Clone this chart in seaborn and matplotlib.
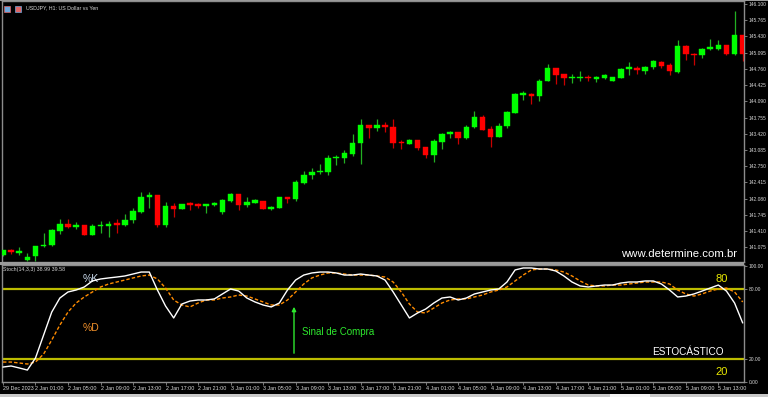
import numpy as np
import pandas as pd
import matplotlib
matplotlib.use("Agg")
import matplotlib.pyplot as plt
from matplotlib.patches import Rectangle
import seaborn as sns

# ---------------- data ----------------
opens = [140.915, 141.026, 140.970, 140.826, 140.909, 141.099, 141.120, 141.422, 141.551, 141.489,
         141.531, 141.333, 141.510, 141.524, 141.572, 141.545, 141.642, 141.806, 142.114, 142.147,
         141.545, 141.929, 141.874, 141.982, 141.962, 141.935, 141.941, 141.812, 142.038, 142.175,
         141.941, 141.997, 142.032, 141.874, 141.888, 142.120, 142.079, 142.408, 142.566, 142.633,
         142.640, 142.915, 142.921, 143.009, 143.223, 143.599, 143.543, 143.599, 143.557, 143.249,
         143.208, 143.284, 143.140, 142.982, 143.255, 143.414, 143.461, 143.325, 143.551, 143.763,
         143.516, 143.358, 143.584, 143.851, 144.229, 144.241, 144.200, 144.508, 144.769, 144.646,
         144.570, 144.570, 144.590, 144.557, 144.570, 144.508, 144.578, 144.754, 144.783, 144.721,
         144.789, 144.906, 144.830, 144.693, 145.221, 145.071, 145.050, 145.165, 145.173, 145.247,
         145.071, 145.446]
highs = [141.026, 141.052, 141.079, 140.956, 141.114, 141.381, 141.463, 141.668, 141.668, 141.592,
         141.531, 141.551, 141.613, 141.613, 141.662, 141.771, 141.880, 142.216, 142.216, 142.147,
         142.017, 141.991, 141.976, 142.003, 141.997, 141.970, 142.017, 142.065, 142.196, 142.175,
         142.126, 142.065, 142.032, 141.935, 142.126, 142.120, 142.459, 142.650, 142.716, 142.798,
         142.976, 142.982, 143.085, 143.414, 143.722, 143.599, 143.722, 143.654, 143.722, 143.290,
         143.305, 143.284, 143.140, 143.317, 143.440, 143.481, 143.461, 143.599, 143.892, 143.798,
         143.578, 143.633, 143.892, 144.256, 144.297, 144.262, 144.549, 144.851, 144.769, 144.646,
         144.652, 144.707, 144.625, 144.611, 144.646, 144.598, 144.775, 144.898, 144.824, 144.824,
         144.933, 144.927, 144.871, 145.358, 145.241, 145.091, 145.179, 145.370, 145.344, 145.247,
         145.960, 145.446]
lows = [140.909, 140.944, 140.929, 140.791, 140.791, 141.087, 141.114, 141.354, 141.477, 141.448,
        141.339, 141.325, 141.381, 141.284, 141.374, 141.510, 141.586, 141.791, 141.880, 141.498,
        141.489, 141.703, 141.874, 141.847, 141.888, 141.785, 141.921, 141.765, 142.017, 141.839,
        141.900, 141.982, 141.874, 141.853, 141.880, 141.997, 142.028, 142.387, 142.483, 142.592,
        142.572, 142.777, 142.812, 142.956, 142.798, 143.325, 143.475, 143.448, 143.120, 143.112,
        143.202, 143.085, 142.927, 142.839, 143.099, 143.325, 143.208, 143.311, 143.543, 143.496,
        143.153, 143.346, 143.543, 143.845, 144.112, 144.036, 144.091, 144.502, 144.446, 144.434,
        144.475, 144.516, 144.502, 144.481, 144.543, 144.502, 144.563, 144.625, 144.646, 144.660,
        144.763, 144.775, 144.639, 144.672, 144.939, 144.845, 144.980, 145.153, 145.145, 145.050,
        145.036, 144.912]
closes = [141.026, 140.977, 140.997, 140.882, 141.114, 141.134, 141.442, 141.559, 141.489, 141.531,
          141.339, 141.524, 141.545, 141.559, 141.545, 141.648, 141.826, 142.120, 142.147, 141.545,
          141.929, 141.874, 141.976, 141.941, 141.935, 141.962, 141.982, 142.044, 142.175, 141.941,
          142.011, 142.044, 141.874, 141.904, 142.120, 142.073, 142.418, 142.572, 142.633, 142.654,
          142.927, 142.942, 143.018, 143.223, 143.599, 143.543, 143.599, 143.557, 143.223, 143.223,
          143.284, 143.120, 142.982, 143.264, 143.420, 143.461, 143.325, 143.557, 143.763, 143.502,
          143.358, 143.584, 143.859, 144.241, 144.262, 144.200, 144.516, 144.769, 144.639, 144.570,
          144.590, 144.590, 144.563, 144.584, 144.625, 144.584, 144.763, 144.789, 144.728, 144.804,
          144.912, 144.824, 144.707, 145.227, 145.056, 145.050, 145.165, 145.200, 145.255, 145.071,
          145.446, 145.062]

stoch_k = [12.9, 13.8, 12.1, 10.3, 20.7, 40.5, 60.3, 72.4, 77.6, 79.3,
           81.9, 87.1, 88.8, 89.7, 90.5, 91.4, 93.1, 94.8, 94.8, 79.3,
           65.5, 55.2, 67.2, 69.8, 70.7, 70.7, 71.6, 75.9, 80.2, 78.4,
           72.4, 69.0, 66.4, 64.7, 68.1, 79.3, 87.9, 92.2, 94.0, 94.8,
           94.8, 94.0, 92.2, 92.2, 93.1, 92.2, 91.4, 87.9, 77.6, 66.4,
           55.2, 59.5, 62.9, 68.1, 72.4, 73.3, 70.7, 72.4, 75.9, 77.6,
           79.3, 80.2, 86.2, 96.6, 98.3, 98.3, 97.4, 97.4, 95.7, 91.4,
           86.2, 82.8, 81.9, 82.8, 83.6, 83.6, 85.3, 86.2, 86.2, 87.1,
           87.1, 84.5, 79.3, 73.3, 74.1, 75.9, 78.4, 81.0, 83.6, 78.4,
           68.1, 50.9]
stoch_d = [17.2, 17.2, 16.4, 15.5, 17.2, 24.1, 36.2, 49.1, 60.3, 68.1,
           73.3, 77.6, 81.9, 84.5, 86.2, 87.9, 89.7, 91.4, 92.2, 88.8,
           81.0, 70.7, 66.4, 64.7, 68.1, 70.7, 70.7, 72.4, 73.3, 75.0,
           74.1, 71.6, 69.0, 66.4, 66.4, 70.7, 77.6, 84.5, 89.7, 92.2,
           94.0, 94.0, 93.1, 92.2, 92.2, 92.2, 91.4, 90.5, 86.2, 77.6,
           67.2, 60.3, 59.5, 63.8, 68.1, 70.7, 71.6, 71.6, 73.3, 75.0,
           77.6, 79.3, 81.9, 87.1, 92.2, 96.6, 97.4, 97.4, 96.6, 94.8,
           91.4, 87.1, 83.6, 82.8, 82.8, 83.6, 83.6, 84.5, 85.3, 86.2,
           86.2, 86.2, 84.5, 79.3, 75.9, 74.1, 75.9, 78.4, 80.2, 81.0,
           77.6, 69.0]

price_ticks = [146.100, 145.765, 145.430, 145.095, 144.760, 144.425, 144.090, 143.755,
               143.420, 143.085, 142.750, 142.415, 142.080, 141.745, 141.410, 141.075]
stoch_ticks = [100.0, 80.0, 20.0, 0.0]
time_tick_pos = [0] + list(range(4, 89, 4))
time_tick_labels = ["29 Dec 2023",
                    "2 Jan 01:00", "2 Jan 05:00", "2 Jan 09:00", "2 Jan 13:00", "2 Jan 17:00", "2 Jan 21:00",
                    "3 Jan 01:00", "3 Jan 05:00", "3 Jan 09:00", "3 Jan 13:00", "3 Jan 17:00", "3 Jan 21:00",
                    "4 Jan 01:00", "4 Jan 05:00", "4 Jan 09:00", "4 Jan 13:00", "4 Jan 17:00", "4 Jan 21:00",
                    "5 Jan 01:00", "5 Jan 05:00", "5 Jan 09:00", "5 Jan 13:00"]

df = pd.DataFrame({"open": opens, "high": highs, "low": lows, "close": closes,
                   "k": stoch_k, "d": stoch_d})
df["idx"] = np.arange(len(df))

# ---------------- style ----------------
sns.set_theme(style="dark")
plt.rcParams["font.family"] = ["Liberation Sans", "DejaVu Sans"]

W, H = 768, 397
fig = plt.figure(figsize=(W / 100, H / 100), dpi=100, facecolor="black")

def fx(px):
    return px / W

def fy(py):
    return 1 - py / H

GRAY = "#8c8c8c"
TXT = "#d8d8d8"

ax = fig.add_axes([fx(2), fy(262), fx(744) - fx(2), fy(1) - fy(262)], facecolor="black")
ax2 = fig.add_axes([fx(2), fy(382), fx(744) - fx(2), fy(265) - fy(382)], facecolor="black")

x0 = -0.12
x1 = 91.16
for a in (ax, ax2):
    a.set_xlim(x0, x1)
    a.grid(False)
    for s in a.spines.values():
        s.set_color(GRAY)
        s.set_linewidth(1.0)

# ---------------- candles ----------------
up = df["close"] >= df["open"]
bull = "#00ff00"
bear = "#ff0000"
wick_colors = np.where(up, "#22b022", "#c80000")
body_colors = np.where(up, bull, bear)
ax.vlines(df["idx"], df["low"], df["high"], colors=wick_colors, linewidth=0.9, zorder=2)
body_bottom = np.minimum(df["open"], df["close"])
body_h = np.maximum(np.abs(df["close"] - df["open"]), 0.022)
ax.bar(df["idx"], body_h, bottom=body_bottom, width=0.68, color=body_colors,
       edgecolor=body_colors, linewidth=0.3, zorder=3)

ymin = 143.085 - 112 / 48.5
ymax = 143.085 + 149 / 48.5
ax.set_ylim(ymin, ymax)
ax.yaxis.tick_right()
ax.set_yticks(price_ticks)
ax.set_yticklabels([f"{v:.3f}" for v in price_ticks])
ax.tick_params(axis="y", direction="out", length=2, width=0.6, color=GRAY,
               labelsize=3.5, labelcolor=TXT, pad=1.5, right=True, left=False)
for lab in ax.get_yticklabels():
    lab.set_fontfamily(["Liberation Sans Narrow", "Liberation Sans"])
ax.set_xticks([])
ax.set_xlabel("")
ax.set_ylabel("")

ax.text(0.033, 0.985, "USDJPY, H1: US Dollar vs Yen", transform=ax.transAxes,
        color=TXT, fontsize=3.8, va="top", ha="left")
fig.patches.append(Rectangle((fx(4), fy(12)), fx(6), fy(6) - fy(12), transform=fig.transFigure,
                             facecolor="#6fa8dc", edgecolor="#e06666", lw=0.5))
fig.patches.append(Rectangle((fx(15), fy(12)), fx(6), fy(6) - fy(12), transform=fig.transFigure,
                             facecolor="#e06666", edgecolor="#6fa8dc", lw=0.5))
ax.text(fx(737), fy(254), "www.determine.com.br", transform=fig.transFigure,
        color="white", fontsize=8.2, ha="right", va="center")

# ---------------- stochastic ----------------
sns.lineplot(data=df, x="idx", y="k", ax=ax2, color="white", linewidth=1.0, zorder=4)
sns.lineplot(data=df, x="idx", y="d", ax=ax2, color="#ff8c00", linewidth=1.0,
             linestyle=(0, (2.5, 1.5)), zorder=3)
ax2.axhline(80, color="#bcbc00", linewidth=1.6, zorder=2)
ax2.axhline(20, color="#bcbc00", linewidth=1.6, zorder=2)
vtop = (382 - 265) / 1.16
ax2.set_ylim(0, vtop)
ax2.yaxis.tick_right()
ax2.set_yticks(stoch_ticks)
ax2.set_yticklabels([f"{v:.2f}" for v in stoch_ticks])
ax2.tick_params(axis="y", direction="out", length=2, width=0.6, color=GRAY,
                labelsize=3.5, labelcolor=TXT, pad=1.5, right=True, left=False)
ax2.set_xticks(time_tick_pos)
ax2.set_xticklabels(time_tick_labels, ha="left")
ax2.tick_params(axis="x", direction="out", length=2, width=0.6, color=GRAY,
                labelsize=3.9, labelcolor=TXT, pad=1.0, bottom=True)
for lab in ax2.get_xticklabels() + ax2.get_yticklabels():
    lab.set_fontfamily(["Liberation Sans Narrow", "Liberation Sans"])
ax2.set_xlabel("")
ax2.set_ylabel("")

ax2.text(fx(3), fy(270), "Stoch(14,3,3) 38.99 39.58", transform=fig.transFigure,
         color=TXT, fontsize=3.8, ha="left", va="center")
ax2.text(fx(83), fy(279), "%K", transform=fig.transFigure, color="#c8d8ea",
         fontsize=7.5, ha="left", va="center")
ax2.text(fx(83), fy(328), "%D", transform=fig.transFigure, color="#f0902a",
         fontsize=7.5, ha="left", va="center")
ax2.text(fx(722), fy(279), "80", transform=fig.transFigure, color="#e8e800",
         fontsize=8, ha="center", va="center")
ax2.text(fx(722), fy(372), "20", transform=fig.transFigure, color="#e8e800",
         fontsize=8, ha="center", va="center")
ax2.text(fx(302), fy(332), "Sinal de Compra", transform=fig.transFigure, color="#2ee82e",
         fontsize=7, ha="left", va="center")
ax2.text(fx(724), fy(352), "ESTOCÁSTICO", transform=fig.transFigure, color="white",
         fontsize=7.2, ha="right", va="center")
ax2.annotate("", xy=(fx(294), fy(304)), xytext=(fx(294), fy(356)),
             xycoords="figure fraction", textcoords="figure fraction",
             arrowprops=dict(arrowstyle="-|>", color="#2ee82e", lw=1.0,
                             mutation_scale=6))

# frame pieces
fig.patches.append(Rectangle((0, fy(265)), fx(744), fy(262) - fy(265), transform=fig.transFigure,
                             facecolor="#9a9a9a", edgecolor="none", zorder=0))
fig.patches.append(Rectangle((0, 0), 1, 3 / H, transform=fig.transFigure,
                             facecolor="#c8c8c8", edgecolor="none"))
fig.patches.append(Rectangle((fx(610), 0), fx(40), 3 / H, transform=fig.transFigure,
                             facecolor="#f4f4f4", edgecolor="none"))
fig.patches.append(Rectangle((0, fy(1)), 1, 1 / H, transform=fig.transFigure,
                             facecolor="#9a9a9a", edgecolor="none"))

fig.savefig("out.png", dpi=100, facecolor="black")
